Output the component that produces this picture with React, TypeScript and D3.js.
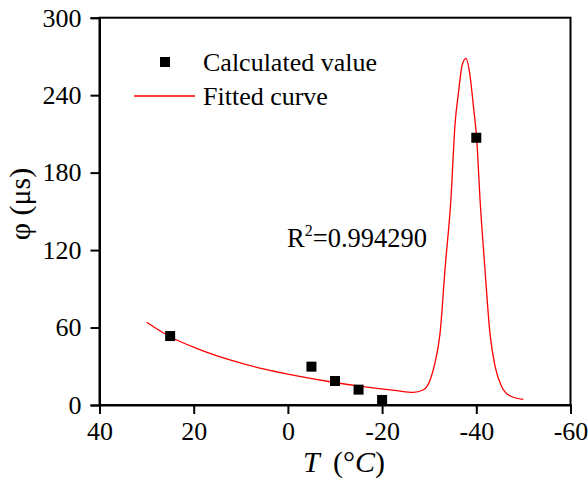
import * as d3 from 'd3'
import { useEffect, useRef } from 'react'

// calculated values: temperature (°C) and phi (µs)
const calcT = [25, -5, -10, -15, -20, -40]
const calcPhi = [53.4, 29.7, 18.6, 11.9, 3.9, 207]

// fitted curve
const fitT = [30, 25, 19.4, 12.3, 5.2, -1.9, -8.9, -16, -23.1, -26.6, -28.7, -30.2, -31.2, -32.3, -33.4, -34.6, -35.5, -36.2, -37, -37.8, -38.6, -39.4, -40.1, -40.8, -41.8, -42.9, -44, -45.4, -47.2, -50]
const fitPhi = [64.1, 52.9, 43.9, 34.9, 27.9, 22.5, 18, 14.2, 11.1, 9.8, 11.6, 19.4, 32.3, 55.5, 107.1, 158.8, 218.2, 241.4, 263.4, 268.5, 256.9, 231.1, 205.3, 158.8, 107.1, 55.5, 29.7, 14.2, 7, 4.4]

const xTicks = [40, 20, 0, -20, -40, -60]
const yTicks = [0, 60, 120, 180, 240, 300]

const App = () => {
    const svgRef = useRef<SVGSVGElement>(null)

    useEffect(() => {
        const w = 588
        const h = 484
        const left = 99.5, right = 570.5, top = 17.7, bottom = 405
        const font = '"Liberation Serif", "Times New Roman", serif'

        const svg = d3.select(svgRef.current).attr('width', w).attr('height', h)
        svg.selectAll('*').remove()

        const x = d3.scaleLinear().domain([40, -60]).range([left, right])
        const y = d3.scaleLinear().domain([0, 300]).range([bottom, top])

        // frame
        svg.append('rect').attr('x', left).attr('y', top)
            .attr('width', right - left).attr('height', bottom - top)
            .attr('fill', 'none').attr('stroke', '#000').attr('stroke-width', 2)

        // axes
        const fmt = (d: d3.NumberValue) => String(d)
        const xAxis = svg.append('g').attr('transform', `translate(0,${bottom})`)
            .call(d3.axisBottom(x).tickValues(xTicks).tickSize(9).tickPadding(6).tickFormat(fmt))
        const yAxis = svg.append('g').attr('transform', `translate(${left},0)`)
            .call(d3.axisLeft(y).tickValues(yTicks).tickSize(9).tickPadding(9).tickFormat(fmt))
        for (const g of [xAxis, yAxis]) {
            g.attr('font-family', font).attr('font-size', 26)
            g.select('.domain').attr('stroke-width', 2)
            g.selectAll('.tick line').attr('stroke-width', 2)
            g.selectAll('.tick text').attr('fill', '#000').style('font-family', font)
        }
        xAxis.selectAll('.tick text').attr('dy', '0.78em')

        // fitted curve
        const line = d3.line<number>()
            .x((_, i) => x(fitT[i]))
            .y(d => y(d))
            .curve(d3.curveMonotoneX)
        svg.append('path').attr('d', line(fitPhi)).attr('fill', 'none')
            .attr('stroke', '#ff0000').attr('stroke-width', 1.3)

        // calculated points
        const s = 10
        svg.selectAll('rect.pt').data(calcPhi).join('rect').attr('class', 'pt')
            .attr('x', (_, i) => x(calcT[i]) - s / 2).attr('y', d => y(d) - s / 2)
            .attr('width', s).attr('height', s).attr('fill', '#000')

        // legend
        svg.append('rect').attr('x', 160).attr('y', 57).attr('width', s).attr('height', s).attr('fill', '#000')
        svg.append('text').attr('x', 203).attr('y', 71).text('Calculated value')
            .attr('font-family', font).attr('font-size', 26)
        svg.append('line').attr('x1', 134).attr('x2', 195).attr('y1', 96).attr('y2', 96)
            .attr('stroke', '#ff0000').attr('stroke-width', 1.3)
        svg.append('text').attr('x', 203).attr('y', 105).text('Fitted curve')
            .attr('font-family', font).attr('font-size', 26)

        // R squared
        const r2 = svg.append('text').attr('x', 287).attr('y', 247)
            .attr('font-family', font).attr('font-size', 26.5)
        r2.append('tspan').text('R')
        r2.append('tspan').attr('dy', -11).attr('font-size', 16).text('2')
        r2.append('tspan').attr('dy', 11).text('=0.994290')

        // axis titles
        const xt = svg.append('text').attr('x', 344).attr('y', 472).attr('text-anchor', 'middle')
            .attr('font-family', font).attr('font-size', 30)
        xt.append('tspan').attr('font-style', 'italic').text('T')
        xt.append('tspan').attr('dx', 6).text(' (°')
        xt.append('tspan').attr('font-style', 'italic').text('C')
        xt.append('tspan').text(')')

        svg.append('text').attr('transform', 'translate(30,204) rotate(-90)')
            .attr('text-anchor', 'middle')
            .attr('font-family', font).attr('font-size', 30)
            .text('φ (μs)')
    }, [])

    return (
        <div>
            <svg ref={svgRef} style={{ position: 'absolute', left: 0, top: 0 }}></svg>
        </div>
    )
}

export default App
